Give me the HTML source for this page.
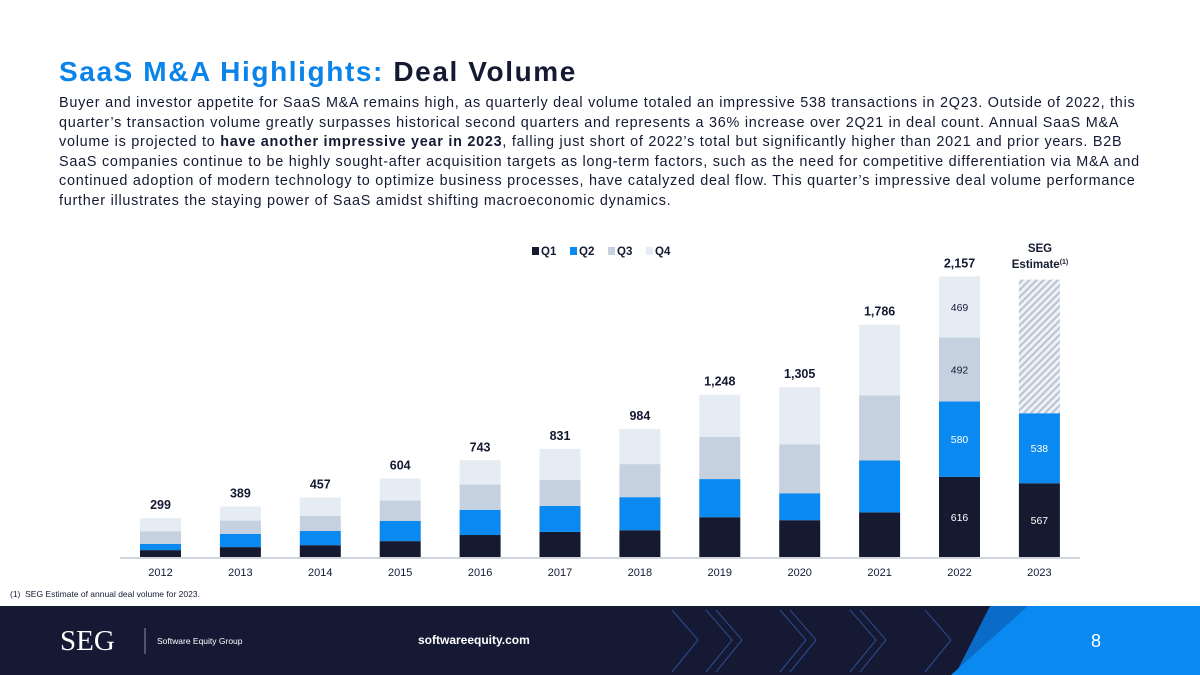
<!DOCTYPE html>
<html><head><meta charset="utf-8"><style>
body{margin:0;width:1200px;height:675px;overflow:hidden;background:#fff;font-family:"Liberation Sans",Arial,sans-serif;position:relative}
.title{position:absolute;left:59px;top:56px;font-size:28px;letter-spacing:1.6px;font-weight:bold;color:#151a33;white-space:nowrap}
.title span{color:#0a84ea}
.para{position:absolute;left:59px;top:94px;font-size:14.4px;line-height:19.6px;letter-spacing:0.75px;color:#151a33}
.para div{white-space:nowrap}
.foot{position:absolute;left:10px;top:589px;font-size:8.5px;color:#151a33}
.footer{position:absolute;left:0;top:606px;width:1200px;height:69px;background:#151933}
</style></head><body>
<div class="title"><span>SaaS M&amp;A Highlights:</span> Deal Volume</div>
<div class="para">
<div>Buyer and investor appetite for SaaS M&amp;A remains high, as quarterly deal volume totaled an impressive 538 transactions in 2Q23. Outside of 2022, this</div>
<div>quarter’s transaction volume greatly surpasses historical second quarters and represents a 36% increase over 2Q21 in deal count. Annual SaaS M&amp;A</div>
<div>volume is projected to <b>have another impressive year in 2023</b>, falling just short of 2022’s total but significantly higher than 2021 and prior years. B2B</div>
<div>SaaS companies continue to be highly sought-after acquisition targets as long-term factors, such as the need for competitive differentiation via M&amp;A and</div>
<div>continued adoption of modern technology to optimize business processes, have catalyzed deal flow. This quarter’s impressive deal volume performance</div>
<div>further illustrates the staying power of SaaS amidst shifting macroeconomic dynamics.</div>
</div>
<svg id="chart" width="1200" height="600" style="position:absolute;left:0;top:0">
<defs><pattern id="hatch" width="5" height="5" patternUnits="userSpaceOnUse" patternTransform="rotate(45)"><rect width="5" height="5" fill="#eef1f6"/><rect width="2" height="5" fill="#b9c3d3"/></pattern></defs>
</svg>
<div class="foot">(1)&nbsp; SEG Estimate of annual deal volume for 2023.</div>
<div class="footer">
<svg width="1200" height="69" style="position:absolute;left:0;top:0">
<g stroke="#2b4d92" stroke-width="1" fill="none">
<polyline points="672,4 698,34 672,66"/><polyline points="706,4 732,34 706,66"/><polyline points="716,4 742,34 716,66"/>
<polyline points="780,4 806,34 780,66"/><polyline points="790,4 816,34 790,66"/>
<polyline points="850,4 876,34 850,66"/><polyline points="860,4 886,34 860,66"/>
<polyline points="925,4 951,34 925,66"/>
</g>
<polygon points="990,0 1200,0 1200,69 955,69" fill="#0a6cc8"/>
<polygon points="1028,0 1200,0 1200,69 951,69" fill="#0a8af0"/>
<text x="60" y="44" font-family="Liberation Serif,serif" font-size="29" fill="#fff">SEG</text>
<line x1="145" y1="22" x2="145" y2="48" stroke="#8890a8"/>
<text x="157" y="38" font-size="8.5" fill="#fff">Software Equity Group</text>
<text x="418" y="38" font-size="12" font-weight="bold" fill="#fff">softwareequity.com</text>
<text x="1091" y="41" font-size="18" fill="#fff">8</text>
</svg></div>
<script>
const years=["2012","2013","2014","2015","2016","2017","2018","2019","2020","2021","2022","2023"];
const q1=[53,76,91,122,169,193,206,306,283,343,616,567];
const q2=[47,102,109,156,194,200,254,293,207,400,580,538];
const q3=[96,102,117,156,194,200,254,325,377,499,492,0];
const q4=[103,109,140,170,186,238,270,324,438,544,469,0];
const estimateRemainder=[0,0,0,0,0,0,0,0,0,0,0,1027];
const totals=["299","389","457","604","743","831","984","1,248","1,305","1,786","2,157",""];
const innerLabelYears=["2022","2023"];
const NS="http://www.w3.org/2000/svg";
const svg=document.getElementById('chart');
const base=557, k=0.1301;
function yv(v){return base-v*k;}
function xc(i){return 160.5+i*79.9;}
function mk(t,a){const e=document.createElementNS(NS,t);for(const p in a)e.setAttribute(p,a[p]);svg.appendChild(e);return e;}
const series=[[q1,"#151a31","q1"],[q2,"#0a8af0","q2"],[q3,"#c6d1e0","q3"],[q4,"#e6ecf3","q4"],[estimateRemainder,"url(#hatch)","estimate"]];
years.forEach((yr,i)=>{
 let cum=0;
 series.forEach(([arr,col,nm])=>{
  const v=arr[i]; if(!v)return;
  const r=mk('rect',{x:xc(i)-20.5,y:yv(cum+v),width:41,height:v*k,fill:col});
  
  
  if(innerLabelYears.includes(yr)&&nm!=="estimate"){
   const t=mk('text',{x:xc(i),y:yv(cum+v/2)+4,'text-anchor':'middle','font-size':'10.5',fill:(nm==="q1"||nm==="q2")?"#fff":"#151a33"});
   t.textContent=v;
   
   
  }
  cum+=v;
 });
 if(totals[i]){
  const t=mk('text',{x:xc(i),y:yv(cum)-9,'text-anchor':'middle','font-size':'12.5','font-weight':'bold',fill:'#151a33'});
  t.textContent=totals[i];
  
  
 }
 const xl=mk('text',{x:xc(i),y:576,'text-anchor':'middle','font-size':'11',fill:'#151a33'});
 xl.textContent=yr;
 
 
});
const ax=mk('line',{x1:120,x2:1080,y1:base+1,y2:base+1,stroke:'#d3d3df','stroke-width':2});


const e1=mk('text',{x:1040,y:252,'text-anchor':'middle','font-size':'11.5','font-weight':'bold',fill:'#151a33'});e1.textContent='SEG';


const e2=mk('text',{x:1040,y:268,'text-anchor':'middle','font-size':'11.5','font-weight':'bold',fill:'#151a33'});e2.innerHTML='Estimate<tspan font-size="7" dy="-4">(1)</tspan>';


const legendNames=["Q1","Q2","Q3","Q4"];
const legendCols=["#151a31","#0a8af0","#c6d1e0","#e6ecf3"];
legendNames.forEach((n,j)=>{
 const x=532+j*38;
 const r=mk('rect',{x:x,y:247,width:7,height:8,fill:legendCols[j]});
 
 
 const t=mk('text',{x:x+9,y:255,'font-size':'11.5','font-weight':'bold',fill:'#151a33'});t.textContent=n;
 
 
});
</script>
</body></html>
